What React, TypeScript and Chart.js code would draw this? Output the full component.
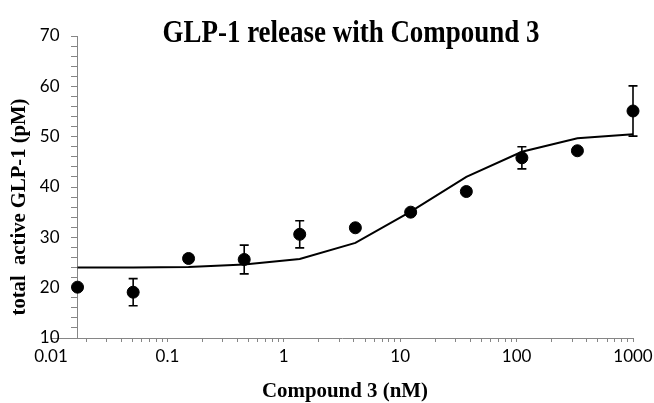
import React, { useEffect, useRef } from "react";
import { Chart, registerables } from "chart.js";

Chart.register(...registerables);

// Compound 3 concentrations (nM), 3-fold dilutions
const concentrations = [0.0169, 0.0508, 0.152, 0.457, 1.37, 4.12, 12.3, 37.0, 111, 333, 1000];
// measured total active GLP-1 (pM)
const measured = [20.1, 19.1, 25.8, 25.6, 30.6, 31.9, 35.0, 39.1, 45.8, 47.2, 55.1];
// error bar half-widths (0 = no bar visible)
const errors = [0, 2.7, 0, 2.85, 2.7, 0, 0, 0, 2.2, 0, 5.0];
// fitted curve
const fitted = [24.0, 24.0, 24.1, 24.6, 25.7, 28.9, 35.1, 42.0, 47.0, 49.7, 50.5];

const xDecades = [0.01, 0.1, 1, 10, 100, 1000];
const xTickLabels = ["0.01", "0.1", "1", "10", "100", "1000"];
const yMin = 10;
const yMax = 70;
const yMinorStep = 2;
const yLabelStep = 10;

const titleText = "GLP-1 release with Compound 3";
const xTitle = "Compound 3 (nM)";
const yTitle = "total  active GLP-1 (pM)";

const AXIS_GRAY = "#868686";
const Y_LABEL_GAP = 18;

function buildLogTicks(): number[] {
  const out: number[] = [];
  for (let i = 0; i < xDecades.length; i++) {
    const d = xDecades[i];
    if (i === xDecades.length - 1) out.push(d);
    else for (let m = 1; m <= 9; m++) out.push(+(d * m).toPrecision(6));
  }
  return out;
}

// y axis sits at the first concentration; move its labels left of the tick marks
const yLabelShiftPlugin = {
  id: "yLabelShift",
  beforeDraw(chart: any) {
    const ys = chart.scales.y;
    const items = ys.getLabelItems(chart.chartArea);
    if (items && !items._shifted) {
      const axisX = chart.scales.x.getPixelForValue(concentrations[0]);
      items.forEach((it: any) => {
        it.options.translation[0] = axisX - Y_LABEL_GAP;
        it.options.textAlign = "right";
      });
      items._shifted = true;
    }
  },
};

const errorBarPlugin = {
  id: "errorBars",
  beforeDatasetsDraw(chart: any) {
    const { ctx, scales } = chart;
    const xs = scales.x;
    const ys = scales.y;
    ctx.save();
    ctx.strokeStyle = "#000";
    ctx.lineWidth = 1.6;
    for (let i = 0; i < concentrations.length; i++) {
      const e = errors[i];
      if (!e) continue;
      const px = xs.getPixelForValue(concentrations[i]);
      const top = ys.getPixelForValue(measured[i] + e);
      const bot = ys.getPixelForValue(measured[i] - e);
      ctx.beginPath();
      ctx.moveTo(px, top);
      ctx.lineTo(px, bot);
      ctx.moveTo(px - 4.5, top);
      ctx.lineTo(px + 4.5, top);
      ctx.moveTo(px - 4.5, bot);
      ctx.lineTo(px + 4.5, bot);
      ctx.stroke();
    }
    ctx.restore();
  },
};

function drawFitted(ctx: CanvasRenderingContext2D, text: string, font: string, cx: number, cy: number, targetW: number, rotate: boolean) {
  ctx.save();
  ctx.font = font;
  const w = ctx.measureText(text).width;
  const sx = targetW / w;
  ctx.translate(cx, cy);
  if (rotate) ctx.rotate(-Math.PI / 2);
  ctx.scale(sx, 1);
  ctx.textAlign = "center";
  ctx.textBaseline = "alphabetic";
  ctx.fillStyle = "#000";
  ctx.fillText(text, 0, 0);
  ctx.restore();
}

const textPlugin = {
  id: "texts",
  afterDraw(chart: any) {
    const ctx = chart.ctx;
    drawFitted(ctx, titleText, "bold 31px 'Liberation Serif'", 351, 42, 377, false);
    drawFitted(ctx, xTitle, "bold 21px 'Liberation Serif'", 345, 397, 166, false);
    drawFitted(ctx, yTitle, "bold 21px 'Liberation Serif'", 25, 207, 217, true);
  },
};

export default function App() {
  const canvasRef = useRef<HTMLCanvasElement | null>(null);

  useEffect(() => {
    if (!canvasRef.current) return;
    const tickVals = buildLogTicks();
    const chart = new Chart(canvasRef.current, {
      type: "scatter",
      data: {
        datasets: [
          {
            type: "line",
            label: "fit",
            data: concentrations.map((x, i) => ({ x, y: fitted[i] })),
            borderColor: "#000",
            borderWidth: 2,
            pointRadius: 0,
            tension: 0,
            fill: false,
            order: 2,
          } as any,
          {
            label: "measured",
            data: concentrations.map((x, i) => ({ x, y: measured[i] })),
            backgroundColor: "#000",
            borderColor: "#000",
            pointRadius: 6,
            pointHoverRadius: 6,
            clip: false,
            order: 1,
          } as any,
        ],
      },
      options: {
        animation: false,
        responsive: true,
        maintainAspectRatio: false,
        layout: { padding: { left: 51, right: 21, top: 36, bottom: 25 } },
        plugins: {
          legend: { display: false },
          title: { display: false },
          tooltip: { enabled: false },
        },
        scales: {
          x: {
            type: "logarithmic",
            position: "bottom",
            min: xDecades[0],
            max: xDecades[xDecades.length - 1],
            afterBuildTicks(scale: any) {
              scale.ticks = tickVals.map((v) => ({ value: v }));
            },
            afterFit(scale: any) {
              scale.height = 40;
              scale.paddingLeft = 0;
              scale.paddingRight = 0;
            },
            grid: {
              drawOnChartArea: false,
              drawTicks: true,
              tickLength: 4,
              color: AXIS_GRAY,
              lineWidth: 1,
            },
            border: { display: true, color: AXIS_GRAY, width: 1 },
            ticks: {
              autoSkip: false,
              maxRotation: 0,
              minRotation: 0,
              padding: 4,
              color: "#000",
              font: { family: "Lato", size: 17 },
              callback(value: any) {
                const idx = xDecades.findIndex((d) => Math.abs(d - Number(value)) / d < 1e-6);
                return idx >= 0 ? xTickLabels[idx] : "";
              },
            },
          },
          y: {
            type: "linear",
            position: { x: concentrations[0] } as any,
            min: yMin,
            max: yMax,
            grid: {
              drawOnChartArea: false,
              drawTicks: true,
              tickLength: 6,
              color: AXIS_GRAY,
              lineWidth: 1,
            },
            border: { display: true, color: AXIS_GRAY, width: 1 },
            ticks: {
              stepSize: yMinorStep,
              autoSkip: false,
              padding: 10,
              color: "#000",
              font: { family: "Lato", size: 17 },
              callback(value: any) {
                const v = Number(value);
                return v % yLabelStep === 0 ? String(v) : "";
              },
            },
          },
        },
      },
      plugins: [yLabelShiftPlugin, errorBarPlugin, textPlugin],
    });
    return () => chart.destroy();
  }, []);

  return (
    <div style={{ position: "fixed", left: 0, top: 0, width: 654, height: 403, background: "#fff" }}>
      <canvas ref={canvasRef} />
    </div>
  );
}
